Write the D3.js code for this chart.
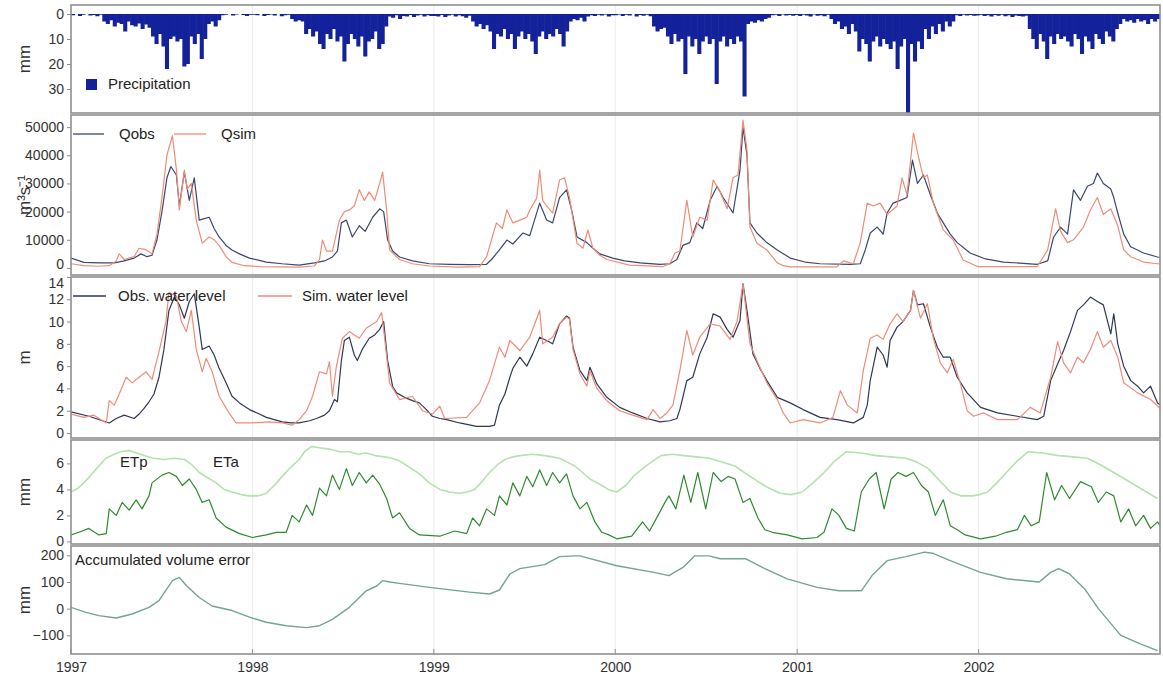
<!DOCTYPE html>
<html>
<head>
<meta charset="utf-8">
<script src="https://cdn.jsdelivr.net/npm/d3@7"></script>
<style>
  html, body { margin: 0; padding: 0; background: #fff; }
  svg { display: block; font-family: "Liberation Sans", Arial, sans-serif; }
</style>
</head>
<body>
<svg id="chart" width="1163" height="685"></svg>
<script>
// ---- Data (day = days since 1 Jan 1997) ----------------------------------

const yearTicks = [1997, 1998, 1999, 2000, 2001, 2002];

// Weekly precipitation (mm), one value per 7-day step from 1 Jan 1997
const precip1997 = [0.5,0,0.8,0.3,0,0.6,0.4,0.9,0.3, 3,4,2.5,5,3.5,4,7,3,4.5,5,3.8,6,4.2,5.5, 9,12,8,13,22,10, 9,11,10,21,20,9,12,8,18,10, 4,3,5,2.5, 0.5,0.3,0,0.6,0.2,0,0.4,0.8,0.3];
const precip1998 = [0.3,0.5,0,0.8,0.4,0.2,0.6,0,0.9,0.5,0.3, 2,3,2.5,3,8, 6,9,7,12,14,8,10,6,11,9,19,12,8,10,13,9,17,11,10,7,14,12,5, 1,1.5,0.5,2,0.8,1,0.4,1.2,0.6,0.3,1,0.5,0.8];
const precip1999 = [0.8,1,0.4,1.2,0.6,0.3,1,0.5,0.9,1.5,0.7, 3,5,4,6,4.5, 7,14,8,9,6,10,8,14,9,7,10,8,11,16,9,7,10,8,9,6,8,13,7, 3,2,2.5,1.5,3,1, 0.5,0.8,0.3,0.6,0.2,1,0.5];
const precip2000 = [0.5,0.2,0.8,0.3,0.6,0,1,0.4,0.7,0.3,0.9, 5,7,6,5.5, 9,12,8,11,10,24,9,13,10,16,11,9,12,10,28,11,9,13,10,12,9,11,33, 4,3,3.5,2.5,3,2,1.5, 0.5,0.3,0.8,0.2,0.6,0.4,0.7];
const precip2001 = [0.4,0.8,0.3,0.6,1,0.2,0.7,0.5,0.9,0.3, 2,4,3,6,5,8,4,7, 15,10,12,19,11,9,13,10,12,14,11,22,13,10,42,12,19,11,14, 6,10,5,8,4,7,3,5,3, 0.5,0.8,0.3,0.6,0.4,0.7];
const precip2002 = [0.6,0.3,0.8,0.5,1,0.4,0.7,0.3,0.9,0.5,1.2,0.6,0.8,1,0.7, 6,10,14,8,11,18,9,12,8,10,9,11,13,8,10,16,9,11,14,8,10,12,7,9,11,6, 4,2,3,2.5,3.5,2,3,2.5,4,2,3, 2];

// Discharge (m3/s), [day, value]
const qObs = [[0,3500],[26,2000],[56,1800],[87,1800],[107,2500],[127,3500],[141,5000],[153,4000],[163,4500],[173,10000],[183,20000],[193,32000],[201,36000],[212,33000],[218,22000],[228,34000],[238,24000],[248,32000],[258,17000],[268,17500],[278,18000],[288,14000],[298,11000],[312,8000],[324,6400],[339,5000],[359,3500],[393,2100],[425,1500],[459,1000],[490,1800],[510,2500],[526,3900],[536,6000],[544,16000],[554,17000],[566,11000],[580,15000],[592,13000],[607,18000],[621,21000],[629,20000],[637,10000],[647,6000],[661,3900],[687,2500],[721,1500],[762,1300],[802,1200],[836,1300],[846,3000],[862,6400],[877,9900],[889,8500],[909,12400],[923,11500],[943,23000],[957,17000],[969,16000],[983,25000],[997,27700],[1008,20000],[1018,11000],[1038,9000],[1050,7000],[1064,5000],[1090,3500],[1114,2500],[1145,1800],[1185,1300],[1205,1500],[1219,3000],[1231,8000],[1245,9000],[1259,16000],[1271,14000],[1286,24000],[1300,29000],[1312,25000],[1332,19500],[1346,34700],[1352,50000],[1360,40000],[1366,16000],[1380,12400],[1400,9000],[1421,6400],[1447,3500],[1477,2100],[1507,1500],[1568,1300],[1588,1500],[1598,6400],[1608,12400],[1622,14500],[1634,12000],[1642,19500],[1654,23000],[1668,24000],[1682,25000],[1693,38300],[1703,30000],[1715,33000],[1729,26000],[1743,19500],[1755,16000],[1769,12000],[1783,9000],[1809,5300],[1840,3200],[1876,2100],[1944,1300],[1965,2500],[1977,11000],[1991,14500],[2005,12000],[2017,27700],[2031,24000],[2045,29000],[2057,30000],[2065,33700],[2077,30000],[2092,28000],[2098,25000],[2106,19500],[2118,12000],[2132,7500],[2158,5300],[2186,3900],[2192,3700]];
const qSim = [[0,1500],[26,800],[56,600],[77,800],[91,2500],[97,5000],[107,3000],[127,4000],[137,7000],[151,6500],[163,5000],[173,12000],[183,25000],[193,40000],[204,47000],[212,35000],[218,20600],[228,34700],[234,28000],[242,30000],[252,17000],[264,8800],[278,11000],[288,10000],[298,8000],[312,4000],[324,2000],[349,800],[379,500],[459,300],[490,700],[500,3000],[506,9900],[514,6000],[526,6000],[540,17000],[550,20000],[560,20600],[570,22000],[580,27800],[590,24000],[600,27000],[611,24000],[621,30000],[627,34000],[635,20600],[641,6400],[661,3000],[687,1500],[721,700],[782,300],[822,500],[836,3900],[846,10000],[856,16000],[868,14000],[877,20600],[889,16000],[903,17000],[917,18000],[923,20600],[937,24800],[943,34700],[949,24000],[957,22000],[969,19500],[983,31200],[993,32000],[1003,25000],[1018,8800],[1030,7000],[1040,13500],[1050,7000],[1064,4500],[1078,3000],[1124,1000],[1191,500],[1205,1500],[1215,5300],[1225,6000],[1239,24000],[1251,11000],[1265,18000],[1280,17000],[1292,31200],[1306,27000],[1320,21000],[1332,32000],[1342,33000],[1352,52500],[1360,42000],[1366,14500],[1380,8800],[1400,6400],[1421,1800],[1433,800],[1447,400],[1541,400],[1554,2500],[1574,1500],[1588,9000],[1602,23000],[1614,22000],[1628,23000],[1642,19000],[1662,22000],[1672,32000],[1682,26000],[1695,48000],[1703,41000],[1715,32000],[1723,33000],[1735,23000],[1755,13500],[1775,9900],[1795,2800],[1824,500],[1944,500],[1965,6400],[1981,21000],[1991,13000],[2005,9000],[2017,10000],[2037,14500],[2051,20600],[2065,25000],[2077,19000],[2092,21000],[2106,15000],[2118,6400],[2132,4000],[2158,2100],[2196,1300]];

// Water level (m), [day, value]
const wlObs = [[0,1.9],[36,1.5],[77,0.9],[91,1.3],[107,1.6],[127,1.3],[137,1.7],[147,2.2],[157,2.8],[167,3.5],[177,5.0],[187,7.5],[197,11.0],[208,12.2],[218,11.5],[228,10.3],[238,11.8],[248,12.5],[258,9.5],[264,7.5],[278,7.8],[288,7.0],[298,5.8],[312,4.5],[324,3.3],[339,2.7],[359,2.1],[379,1.7],[393,1.4],[409,1.2],[425,1.0],[443,0.9],[459,0.9],[480,1.1],[494,1.3],[510,1.6],[520,2.0],[530,3.0],[536,2.8],[544,6.5],[550,8.3],[560,8.6],[570,7.0],[576,6.5],[586,7.5],[600,8.5],[611,8.8],[621,9.3],[629,10.0],[637,6.5],[647,4.2],[655,3.6],[671,3.2],[687,2.9],[701,2.7],[715,2.1],[727,1.5],[742,1.3],[756,1.2],[782,0.9],[816,0.6],[842,0.6],[852,0.7],[862,2.5],[873,3.5],[883,5.0],[889,5.8],[903,6.8],[917,6.0],[929,7.1],[943,8.6],[957,8.3],[969,8.0],[983,9.8],[997,10.5],[1003,10.3],[1010,7.7],[1024,5.6],[1038,4.7],[1044,5.9],[1058,4.4],[1078,3.2],[1104,2.3],[1130,1.8],[1159,1.3],[1185,1.0],[1205,1.1],[1219,1.3],[1225,2.1],[1239,4.7],[1251,5.0],[1265,7.1],[1280,8.6],[1292,10.7],[1306,10.4],[1320,9.3],[1332,8.6],[1346,10.1],[1352,13.4],[1360,11.0],[1372,7.1],[1386,5.8],[1400,4.7],[1421,3.2],[1447,2.7],[1473,2.1],[1507,1.4],[1541,1.2],[1574,0.9],[1594,1.4],[1602,2.5],[1608,4.7],[1622,7.7],[1634,7.0],[1642,5.9],[1648,8.3],[1662,9.5],[1674,10.0],[1689,11.0],[1695,12.8],[1703,11.5],[1715,11.6],[1729,9.5],[1743,7.7],[1755,6.8],[1769,6.8],[1783,5.0],[1803,3.6],[1830,2.3],[1864,1.8],[1904,1.5],[1944,1.2],[1957,1.5],[1971,4.7],[1985,6.2],[1997,7.4],[2011,9.1],[2025,11.0],[2037,11.5],[2051,12.2],[2065,11.8],[2077,11.5],[2092,8.9],[2098,10.7],[2106,8.0],[2118,6.0],[2132,4.7],[2146,4.2],[2158,3.6],[2172,4.2],[2186,2.7],[2192,2.5]];
const wlSim = [[0,1.7],[26,1.4],[46,1.6],[71,0.9],[77,2.9],[87,2.5],[97,3.5],[111,5.0],[123,4.5],[137,5.0],[151,5.5],[163,4.8],[177,7.3],[191,10.0],[197,12.6],[212,12.3],[222,10.0],[232,9.1],[242,11.0],[252,7.5],[264,5.5],[272,6.7],[284,5.5],[298,3.3],[318,1.8],[332,0.9],[365,0.9],[399,1.0],[425,0.9],[445,0.7],[459,1.2],[474,2.0],[486,3.3],[500,5.5],[514,5.3],[520,6.4],[526,3.3],[534,6.0],[546,8.5],[560,9.1],[580,8.5],[594,9.4],[615,10.0],[625,10.8],[631,8.5],[641,4.5],[661,3.0],[687,3.3],[707,2.0],[727,1.7],[742,2.4],[752,1.3],[796,1.4],[822,2.7],[842,4.7],[862,7.7],[873,6.8],[883,8.3],[903,7.4],[923,8.6],[943,11.0],[949,8.0],[969,8.6],[983,9.8],[997,10.4],[1003,10.2],[1010,7.5],[1024,5.3],[1038,4.2],[1044,5.6],[1058,4.0],[1078,2.9],[1104,2.0],[1130,1.6],[1159,1.2],[1171,2.1],[1185,1.3],[1199,1.8],[1211,2.5],[1225,5.6],[1239,9.2],[1251,7.0],[1265,8.6],[1286,9.8],[1306,9.6],[1326,8.4],[1340,10.0],[1352,13.4],[1366,8.0],[1380,6.5],[1400,4.5],[1421,3.0],[1433,1.8],[1447,0.9],[1473,1.2],[1507,0.9],[1533,1.4],[1548,3.8],[1562,2.5],[1582,1.8],[1594,5.6],[1608,8.5],[1622,8.8],[1634,8.4],[1648,9.8],[1662,10.7],[1674,10.0],[1689,11.0],[1695,12.8],[1709,10.3],[1723,11.6],[1735,8.5],[1749,6.3],[1763,5.4],[1775,6.6],[1789,4.5],[1803,2.0],[1816,1.5],[1836,1.8],[1864,1.2],[1904,1.2],[1930,2.3],[1950,1.8],[1971,5.0],[1985,8.2],[1997,6.3],[2011,5.4],[2025,6.8],[2037,6.3],[2051,7.5],[2065,9.1],[2077,7.7],[2092,8.3],[2106,6.8],[2118,4.5],[2146,3.6],[2172,3.0],[2196,2.0]];

// Evapotranspiration (mm/day), [day, value]
const etp = [[0,3.8],[14,4.1],[26,4.5],[40,5.1],[56,5.8],[70,6.4],[87,6.7],[100,6.9],[117,7.0],[132,6.8],[147,6.6],[165,6.4],[187,6.3],[208,6.4],[228,6.3],[243,5.9],[258,5.3],[275,4.9],[292,4.5],[308,4.0],[324,3.8],[342,3.6],[359,3.5],[376,3.5],[393,3.7],[409,4.3],[425,5.0],[442,5.7],[459,6.3],[470,6.9],[484,7.3],[500,7.2],[520,7.1],[540,6.9],[560,6.9],[577,6.7],[594,6.8],[612,6.6],[631,6.5],[646,6.4],[661,6.2],[681,5.7],[701,5.2],[721,4.5],[742,4.0],[762,3.8],[782,3.7],[797,3.8],[812,4.0],[827,4.6],[842,5.3],[858,5.9],[873,6.3],[888,6.5],[903,6.6],[928,6.7],[953,6.6],[968,6.5],[983,6.4],[998,6.1],[1014,5.8],[1029,5.3],[1044,4.8],[1054,4.6],[1064,4.4],[1081,4.0],[1098,3.8],[1116,4.3],[1134,5.1],[1160,5.9],[1187,6.6],[1210,6.7],[1233,6.6],[1258,6.5],[1284,6.4],[1310,6.1],[1336,5.8],[1359,5.2],[1382,4.6],[1404,4.1],[1427,3.7],[1449,3.6],[1471,3.8],[1493,4.5],[1515,5.3],[1537,6.2],[1560,6.9],[1590,6.8],[1620,6.6],[1650,6.5],[1680,6.4],[1702,6.1],[1725,5.6],[1747,4.7],[1769,3.8],[1791,3.5],[1813,3.5],[1828,3.6],[1844,3.8],[1863,4.5],[1882,5.3],[1904,6.2],[1926,6.9],[1956,6.8],[1987,6.6],[2016,6.5],[2045,6.4],[2071,5.9],[2098,5.3],[2120,4.8],[2142,4.3],[2164,3.8],[2186,3.3]];
const eta = [[0,0.5],[16,0.7],[36,1.0],[56,0.5],[71,0.6],[77,2.5],[91,2.0],[103,3.0],[117,2.4],[131,3.2],[143,2.5],[157,3.5],[163,4.5],[183,5.1],[197,5.3],[212,5.0],[224,4.3],[238,4.8],[252,4.0],[264,3.0],[278,3.2],[292,1.8],[312,1.1],[339,0.6],[365,0.3],[393,0.5],[413,0.7],[433,0.7],[445,2.0],[459,1.5],[474,2.8],[486,2.0],[500,4.1],[514,3.5],[526,5.1],[540,4.0],[554,5.6],[566,4.3],[580,5.3],[594,4.5],[607,5.1],[621,4.4],[635,3.3],[647,1.8],[661,2.2],[681,1.0],[701,0.5],[742,0.4],[772,0.8],[796,0.6],[808,1.8],[822,1.2],[836,2.5],[852,2.0],[862,3.5],[877,2.8],[889,4.5],[903,3.5],[917,5.0],[929,4.2],[943,5.5],[957,4.3],[969,5.3],[983,4.5],[997,5.2],[1010,3.5],[1024,2.5],[1038,3.0],[1054,1.5],[1068,0.7],[1082,0.5],[1098,0.2],[1128,0.4],[1150,1.5],[1164,0.8],[1181,2.0],[1195,3.0],[1203,3.5],[1217,2.5],[1233,5.1],[1247,3.0],[1261,5.3],[1277,2.5],[1292,5.3],[1308,4.6],[1322,5.0],[1336,4.8],[1352,3.0],[1366,3.3],[1382,1.8],[1396,0.9],[1411,0.7],[1441,0.5],[1471,0.2],[1501,0.3],[1515,0.7],[1531,2.5],[1545,2.0],[1560,1.0],[1576,0.8],[1590,3.8],[1606,4.8],[1620,5.3],[1636,2.5],[1650,4.8],[1664,5.3],[1680,5.0],[1695,5.3],[1711,4.3],[1725,3.8],[1739,2.0],[1755,3.2],[1769,1.2],[1783,0.9],[1799,0.5],[1830,0.2],[1860,0.4],[1882,0.7],[1904,0.9],[1918,2.0],[1932,1.2],[1948,1.5],[1963,5.3],[1979,3.2],[1993,4.3],[2009,3.3],[2031,4.6],[2053,4.2],[2067,3.0],[2083,3.8],[2098,3.5],[2112,1.5],[2128,2.5],[2142,1.2],[2158,2.0],[2172,1.0],[2186,1.5],[2192,1.2]];

// Accumulated volume error (mm), [day, value]
const volError = [[0,5],[30,-14],[56,-26],[91,-35],[123,-20],[157,5],[177,30],[204,105],[218,117],[232,87],[258,42],[284,10],[324,-7],[359,-32],[393,-51],[433,-64],[474,-71],[500,-64],[526,-40],[560,5],[594,67],[615,85],[627,105],[641,100],[661,95],[721,80],[802,62],[842,55],[862,70],[883,130],[903,150],[953,165],[983,195],[1014,198],[1024,198],[1098,161],[1173,136],[1203,124],[1233,157],[1255,198],[1284,198],[1306,187],[1358,187],[1396,150],[1441,112],[1501,80],[1545,67],[1590,67],[1612,125],[1642,180],[1680,195],[1717,212],[1733,208],[1769,180],[1830,136],[1882,112],[1948,100],[1971,136],[1987,150],[2009,130],[2039,75],[2067,0],[2112,-100],[2150,-131],[2186,-157]];

// ---- Layout ----------------------------------------------------------------
const left = 71, right = 1160;
const DAY = 864e5;
const t0 = Date.UTC(1997, 0, 1);
const toDate = d => new Date(t0 + d * DAY);

const svg = d3.select("#chart");
const x = d3.scaleUtc()
  .domain([new Date(t0), new Date(Date.UTC(2003, 0, 1))])
  .range([left, right]);

const panels = [
  { id: "p", top: 5,   bottom: 113, domain: [-3.6, 39.6], ticks: [0, 10, 20, 30], title: "mm" },
  { id: "q", top: 115, bottom: 275, domain: [54300, -2500], ticks: [0, 10000, 20000, 30000, 40000, 50000], title: "m³s⁻¹" },
  { id: "w", top: 277, bottom: 438, domain: [14.0, -0.45], ticks: [0, 2, 4, 6, 8, 10, 12, 14], title: "m" },
  { id: "e", top: 440, bottom: 544, domain: [7.8, -0.2], ticks: [0, 2, 4, 6], title: "mm" },
  { id: "v", top: 546, bottom: 654, domain: [235, -170], ticks: [-100, 0, 100, 200], title: "mm" }
];

const defs = svg.append("defs");
panels.forEach(p => {
  p.y = d3.scaleLinear().domain(p.domain).range([p.top, p.bottom]);
  defs.append("clipPath").attr("id", "clip-" + p.id)
    .append("rect").attr("x", left).attr("y", p.top)
    .attr("width", right - left).attr("height", p.bottom - p.top);
});
const P = Object.fromEntries(panels.map(p => [p.id, p]));

// panel background + year grid
panels.forEach(p => {
  const g = svg.append("g");
  g.append("rect").attr("x", left).attr("y", p.top)
    .attr("width", right - left).attr("height", p.bottom - p.top)
    .attr("fill", "#fff");
  g.selectAll("line.grid").data(yearTicks.slice(1)).join("line")
    .attr("x1", d => x(new Date(Date.UTC(d, 0, 1))))
    .attr("x2", d => x(new Date(Date.UTC(d, 0, 1))))
    .attr("y1", p.top).attr("y2", p.bottom)
    .attr("stroke", "#ececec").attr("stroke-width", 1);
});

function layer(p) {
  return svg.append("g").attr("clip-path", `url(#clip-${p.id})`);
}
function drawLine(p, data, color, width) {
  const line = d3.line().x(d => x(toDate(d[0]))).y(d => p.y(d[1]));
  layer(p).append("path").datum(data)
    .attr("d", line).attr("fill", "none")
    .attr("stroke", color).attr("stroke-width", width)
    .attr("stroke-linejoin", "round");
}

// ---- Precipitation bars (hanging from the top) ----
const precipitation = [].concat(precip1997, precip1998, precip1999, precip2000, precip2001, precip2002);
const pp = P.p;
layer(pp).selectAll("rect").data(precipitation).join("rect")
  .attr("x", (d, i) => x(toDate(i * 7)))
  .attr("width", (d, i) => x(toDate(i * 7 + 7)) - x(toDate(i * 7)) + 0.6)
  .attr("y", pp.y(0))
  .attr("height", d => pp.y(d) - pp.y(0))
  .attr("fill", "#13229a");

// ---- Discharge ----
drawLine(P.q, qObs, "#3a476f", 1.2);
drawLine(P.q, qSim, "#ee8c76", 1.2);

// ---- Water level ----
drawLine(P.w, wlObs, "#2e3754", 1.2);
drawLine(P.w, wlSim, "#ee8c7a", 1.2);

// ---- Evapotranspiration ----
drawLine(P.e, etp, "#b3e2ad", 1.6);
drawLine(P.e, eta, "#2f8a2f", 1.2);

// ---- Accumulated volume error ----
drawLine(P.v, volError, "#73a394", 1.4);

// ---- Frames and axes ----
panels.forEach(p => {
  svg.append("rect").attr("x", left).attr("y", p.top)
    .attr("width", right - left).attr("height", p.bottom - p.top)
    .attr("fill", "none").attr("stroke", "#8f8f8f").attr("stroke-width", 1.6);

  const ax = svg.append("g").attr("transform", `translate(${left},0)`)
    .call(d3.axisLeft(p.y).tickValues(p.ticks).tickSize(4).tickPadding(3)
      .tickFormat(d3.format("d")));
  ax.select(".domain").remove();
  ax.selectAll("line").attr("stroke", "#8f8f8f");
  ax.selectAll("text").attr("font-size", 14).attr("fill", "#333");

  svg.append("text")
    .attr("transform", `translate(26,${(p.top + p.bottom) / 2}) rotate(-90)`)
    .attr("text-anchor", "middle").attr("dominant-baseline", "middle")
    .attr("font-size", 17).attr("fill", "#333")
    .text(p.title);
  p.axis = ax;
});
// keep the labels at the shared Q / water level border apart
P.q.axis.selectAll(".tick text").filter(d => d === 0).attr("dy", "0.05em");
P.w.axis.selectAll(".tick text").filter(d => d === 14).attr("dy", "0.75em");

// bottom time axis
const xb = svg.append("g").attr("transform", `translate(0,${P.v.bottom})`)
  .call(d3.axisBottom(x)
    .tickValues(yearTicks.map(yv => new Date(Date.UTC(yv, 0, 1))))
    .tickSize(0).tickPadding(8)
    .tickFormat(d3.utcFormat("%Y")));
xb.select(".domain").remove();
xb.selectAll("text").attr("font-size", 14).attr("fill", "#333");
// small inward ticks on the bottom frame
svg.append("g").selectAll("line").data(yearTicks).join("line")
  .attr("x1", d => x(new Date(Date.UTC(d, 0, 1))))
  .attr("x2", d => x(new Date(Date.UTC(d, 0, 1))))
  .attr("y1", P.v.bottom).attr("y2", P.v.bottom - 5)
  .attr("stroke", "#8f8f8f");

// ---- Legends ----
const lg = svg.append("g").attr("font-size", 15).attr("fill", "#222");
function legendLine(x1, x2, yy, color) {
  lg.append("line").attr("x1", x1).attr("x2", x2).attr("y1", yy).attr("y2", yy)
    .attr("stroke", color).attr("stroke-width", 1.3);
}
// precipitation
lg.append("rect").attr("x", 86).attr("y", 79).attr("width", 11).attr("height", 11).attr("fill", "#13229a");
lg.append("text").attr("x", 108).attr("y", 85).attr("dominant-baseline", "middle").text("Precipitation");
// discharge
legendLine(73, 104, 134, "#3a476f");
lg.append("text").attr("x", 119).attr("y", 135).attr("dominant-baseline", "middle").text("Qobs");
legendLine(174, 206, 134, "#ee8c76");
lg.append("text").attr("x", 221).attr("y", 135).attr("dominant-baseline", "middle").text("Qsim");
// water level
legendLine(73, 106, 296, "#2e3754");
lg.append("text").attr("x", 118).attr("y", 297).attr("dominant-baseline", "middle").text("Obs. water level");
legendLine(258, 292, 296, "#ee8c7a");
lg.append("text").attr("x", 302).attr("y", 297).attr("dominant-baseline", "middle").text("Sim. water level");
// evapotranspiration
lg.append("text").attr("x", 120).attr("y", 463).attr("dominant-baseline", "middle").text("ETp");
lg.append("text").attr("x", 213).attr("y", 463).attr("dominant-baseline", "middle").text("ETa");
// volume error
lg.append("text").attr("x", 75).attr("y", 561).attr("dominant-baseline", "middle").text("Accumulated volume error");
</script>
</body>
</html>
